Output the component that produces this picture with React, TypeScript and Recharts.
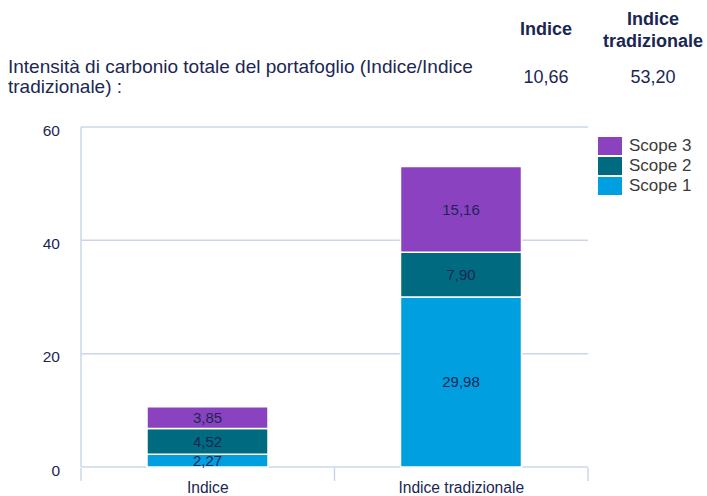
import { Bar, BarChart, CartesianGrid, LabelList, XAxis, YAxis } from "recharts";

const categories = ["Indice", "Indice tradizionale"];
const scope1 = [2.27, 29.98];
const scope2 = [4.52, 7.9];
const scope3 = [3.85, 15.16];
const totals = ["10,66", "53,20"];
const yTicks = [0, 20, 40, 60];
const boundaryTicks = [0, 1, 2];

const NAVY = "#1b2753";
const GRID = "#cbd7e8";
const FONT = "'Liberation Sans', Arial, Helvetica, sans-serif";

const series = [
  { key: "scope1", name: "Scope 1", color: "#009fe0" },
  { key: "scope2", name: "Scope 2", color: "#006a80" },
  { key: "scope3", name: "Scope 3", color: "#8a42c1" },
];

const data = categories.map((name, i) => ({
  name,
  pos: i + 0.5,
  scope1: scope1[i],
  scope2: scope2[i],
  scope3: scope3[i],
}));

const fmt = (v: unknown) => Number(v).toFixed(2).replace(".", ",");

function ScopeLegend() {
  return (
    <div style={{ position: "absolute", left: 598, top: 136, fontSize: 17, color: "#3b3b3b" }}>
      {[...series].reverse().map((s) => (
        <div key={s.key} style={{ display: "flex", alignItems: "center", height: 20 }}>
          <span style={{ width: 24, height: 18, background: s.color, marginRight: 7 }} />
          <span>{s.name}</span>
        </div>
      ))}
    </div>
  );
}

export default function App() {
  return (
    <div
      style={{
        position: "absolute",
        left: 0,
        top: 0,
        width: 707,
        height: 496,
        background: "#fff",
        fontFamily: FONT,
        color: NAVY,
      }}
    >
      <div style={{ position: "absolute", left: 8, top: 57, width: 485, fontSize: 19, lineHeight: "20px" }}>
        Intensità di carbonio totale del portafoglio (Indice/Indice tradizionale) :
      </div>
      <div style={{ position: "absolute", left: 496, top: 19, width: 100, textAlign: "center", fontSize: 18, fontWeight: "bold" }}>
        {categories[0]}
      </div>
      <div
        style={{
          position: "absolute",
          left: 600,
          top: 8,
          width: 106,
          textAlign: "center",
          fontSize: 18,
          fontWeight: "bold",
          lineHeight: "22px",
        }}
      >
        Indice
        <br />
        tradizionale
      </div>
      <div style={{ position: "absolute", left: 496, top: 67, width: 100, textAlign: "center", fontSize: 18 }}>
        {totals[0]}
      </div>
      <div style={{ position: "absolute", left: 603, top: 67, width: 100, textAlign: "center", fontSize: 18 }}>
        {totals[1]}
      </div>

      <div style={{ position: "absolute", left: 0, top: 0 }}>
        <BarChart width={707} height={496} data={data} margin={{ top: 127, right: 119, left: 21, bottom: 27 }}>
          <CartesianGrid xAxisId="grid" vertical={false} stroke={GRID} strokeWidth={1.5} />
          <XAxis
            xAxisId="grid"
            type="number"
            dataKey="pos"
            domain={[0, 2]}
            ticks={boundaryTicks}
            height={1}
            axisLine={false}
            tickSize={13}
            tickLine={{ stroke: GRID, strokeWidth: 1.5 }}
            tickFormatter={() => ""}
          />
          <XAxis
            xAxisId="cat"
            dataKey="name"
            height={1}
            axisLine={false}
            tickLine={false}
            tickSize={0}
            tickMargin={15}
            tick={{ fill: NAVY, fontSize: 15.6, fontFamily: FONT }}
          />
          <YAxis
            domain={[0, 60]}
            ticks={yTicks}
            width={60}
            axisLine={{ stroke: GRID, strokeWidth: 1.5 }}
            tickLine={false}
            tickSize={0}
            tickMargin={21}
            tick={{ fill: NAVY, fontSize: 15.5, fontFamily: FONT, dy: 3 }}
          />
          {series.map((s) => (
            <Bar
              key={s.key}
              xAxisId="cat"
              dataKey={s.key}
              name={s.name}
              stackId="total"
              fill={s.color}
              stroke="#fff"
              strokeWidth={1.5}
              barSize={121}
              isAnimationActive={false}
            >
              <LabelList
                dataKey={s.key}
                position="center"
                formatter={fmt}
                style={{ fill: NAVY, fontSize: 15, fontFamily: FONT }}
              />
            </Bar>
          ))}
        </BarChart>
      </div>
      <ScopeLegend />
    </div>
  );
}
